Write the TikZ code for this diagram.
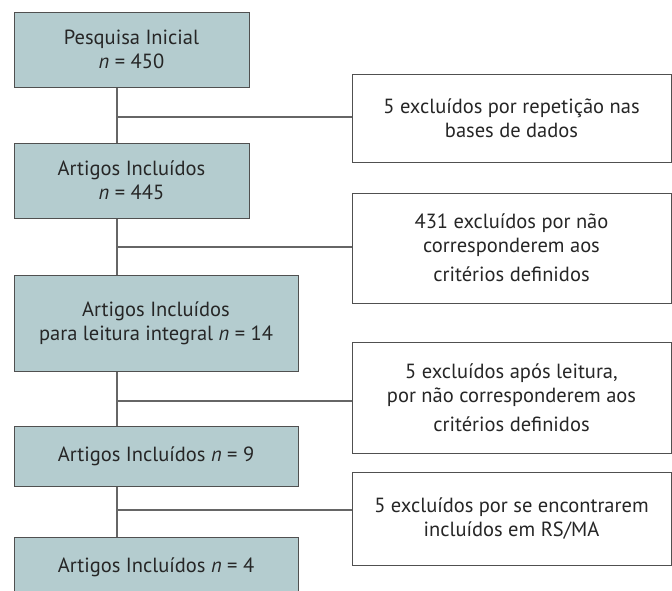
\documentclass[tikz,border=0pt]{standalone}
\usepackage{fontspec}
\setmainfont{PT Sans}
\definecolor{boxfill}{HTML}{B4CCCF}
\definecolor{boxline}{HTML}{505050}
\definecolor{linkline}{HTML}{666666}
\begin{document}
\begin{tikzpicture}[x=1pt, y=-1pt,
    every node/.style={align=center, inner sep=0pt, font=\fontsize{20.5}{24}\selectfont, text=black!85},
    stage/.style={draw=boxline, line width=1pt, fill=boxfill, minimum height=75pt},
    outbox/.style={draw=boxline, line width=1pt, fill=white, minimum width=319pt},
    link/.style={draw=linkline, line width=1.1pt}]
\useasboundingbox (0,0) rectangle (672,590);
\clip (0,0) rectangle (672,590);

\node[stage, minimum width=235pt] (b1) at (131.5,49.5) {Pesquisa Inicial\\\textit{n} = 450};
\node[stage, minimum width=235pt] (b2) at (131.5,180.5) {Artigos Incluídos\\\textit{n} = 445};
\node[stage, minimum width=284pt, minimum height=96pt] (b3) at (156,323) {Artigos Incluídos\\para leitura integral \textit{n} = 14};
\node[stage, minimum width=284pt, minimum height=60pt] (b4) at (156,456) {Artigos Incluídos \textit{n} = 9};
\node[stage, minimum width=284pt, minimum height=60pt] (b5) at (156,567) {Artigos Incluídos \textit{n} = 4};

\node[outbox, minimum height=88pt] (r1) at (511.5,118) {5 excluídos por repetição nas\\bases de dados};
\node[outbox, minimum height=110pt] (r2) at (511.5,248) {431 excluídos por não\\corresponderem aos\\[5pt]critérios definidos};
\node[outbox, minimum height=111pt] (r3) at (511.5,397.5) {5 excluídos após leitura,\\por não corresponderem aos\\[5pt]critérios definidos};
\node[outbox, minimum height=93pt] (r4) at (511.5,518.5) {5 excluídos por se encontrarem\\incluídos em RS/MA};

\coordinate (j1) at (117,117);
\coordinate (j2) at (117,247);
\coordinate (j3) at (117,401);
\coordinate (j4) at (117,510);

\draw[link] (b1.south -| j1) -- (b2.north -| j1);
\draw[link] (b2.south -| j2) -- (b3.north -| j2);
\draw[link] (b3.south -| j3) -- (b4.north -| j3);
\draw[link] (b4.south -| j4) -- (b5.north -| j4);

\draw[link] (j1) -- (j1 -| r1.west);
\draw[link] (j2) -- (j2 -| r2.west);
\draw[link] (j3) -- (j3 -| r3.west);
\draw[link] (j4) -- (j4 -| r4.west);
\end{tikzpicture}
\end{document}
